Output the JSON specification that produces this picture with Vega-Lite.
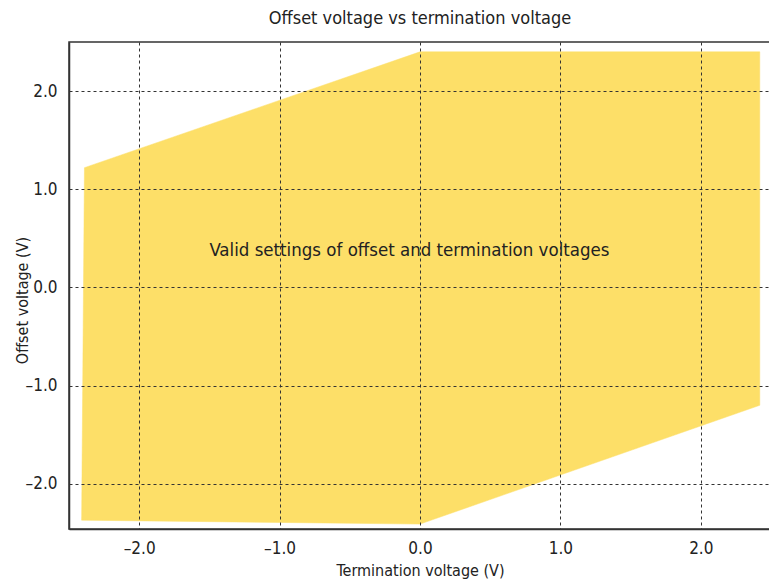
{
  "$schema": "https://vega.github.io/schema/vega-lite/v6.json",
  "autosize": "none",
  "width": 702,
  "height": 487,
  "padding": {"left": 69, "top": 42, "right": 0, "bottom": 58},
  "background": "white",
  "config": {
    "font": "DejaVu Sans Condensed, Roboto, sans-serif",
    "view": {"stroke": "#333333", "strokeWidth": 1.5}
  },
  "title": {
    "text": "Offset voltage vs termination voltage",
    "fontSize": 18,
    "fontWeight": "normal",
    "color": "#222222",
    "offset": 14,
    "font": "DejaVu Sans Condensed, Roboto, sans-serif"
  },
  "datasets": {
    "region": [
      {"i": 1, "termination": -2.39, "offset": 1.22},
      {"i": 2, "termination": 0.0, "offset": 2.4},
      {"i": 3, "termination": 2.42, "offset": 2.4},
      {"i": 4, "termination": 2.42, "offset": -1.2},
      {"i": 5, "termination": 0.0, "offset": -2.41},
      {"i": 6, "termination": -2.41, "offset": -2.37},
      {"i": 7, "termination": -2.39, "offset": 1.22}
    ],
    "note": [
      {"termination": -1.5, "offset": 0.38, "label": "Valid settings of offset and termination voltages"}
    ]
  },
  "layer": [
    {
      "data": {"name": "region"},
      "mark": {"type": "line", "fill": "#fddf68", "stroke": "#fddf68", "strokeWidth": 0.5, "interpolate": "linear"},
      "encoding": {
        "x": {
          "field": "termination", "type": "quantitative",
          "scale": {"domain": [-2.5, 2.5], "nice": false, "zero": false},
          "axis": {
            "title": "Termination voltage (V)",
            "values": [-2, -1, 0, 1, 2],
            "format": ".1f",
            "labelExpr": "replace(datum.label, /[−-]/, '–')",
            "grid": true, "gridDash": [3, 3], "gridColor": "#333333", "gridOpacity": 1, "gridWidth": 1,
            "ticks": false, "domain": true, "domainColor": "#333333", "domainWidth": 1.5,
            "labelFontSize": 17, "labelColor": "#222222", "labelPadding": 11,
            "titleFontSize": 16, "titleFontWeight": "normal", "titleColor": "#222222", "titlePadding": 6,
            "zindex": 1
          }
        },
        "y": {
          "field": "offset", "type": "quantitative",
          "scale": {"domain": [-2.46, 2.5], "nice": false, "zero": false},
          "axis": {
            "title": "Offset voltage (V)",
            "values": [-2, -1, 0, 1, 2],
            "format": ".1f",
            "labelExpr": "replace(datum.label, /[−-]/, '–')",
            "grid": true, "gridDash": [3, 3], "gridColor": "#333333", "gridOpacity": 1, "gridWidth": 1,
            "ticks": false, "domain": true, "domainColor": "#333333", "domainWidth": 1.5,
            "labelFontSize": 17, "labelColor": "#222222", "labelPadding": 12,
            "titleFontSize": 16, "titleFontWeight": "normal", "titleColor": "#222222",
            "titleX": -47, "titleY": 258, "titleAlign": "center", "titleBaseline": "middle", "titleAngle": -90,
            "zindex": 1
          }
        },
        "order": {"field": "i", "type": "quantitative"}
      }
    },
    {
      "data": {"name": "note"},
      "mark": {"type": "text", "align": "left", "baseline": "middle", "fontSize": 18.5, "color": "#222222"},
      "encoding": {
        "x": {"field": "termination", "type": "quantitative"},
        "y": {"field": "offset", "type": "quantitative"},
        "text": {"field": "label"}
      }
    }
  ]
}
